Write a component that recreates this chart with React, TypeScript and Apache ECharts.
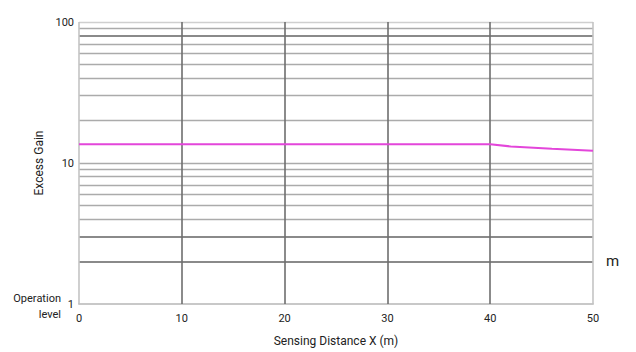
import React, { useEffect, useRef } from "react";
import * as echarts from "echarts";

const distances = [0, 10, 20, 30, 40, 42, 46, 50];
const gains = [13.6, 13.6, 13.6, 13.6, 13.6, 13.1, 12.6, 12.2];
const hLines = [2, 3, 4, 5, 6, 7, 8, 9, 10, 20, 30, 40, 50, 60, 70, 80, 90, 100];
const darkHLines = [2, 3, 80];
const faintHLines = [100];
const vLines = [0, 10, 20, 30, 40, 50];
const darkVLines = [10, 20, 30, 40];

export default function App() {
  const ref = useRef<HTMLDivElement>(null);
  useEffect(() => {
    if (!ref.current) return;
    const chart = echarts.init(ref.current, undefined, { renderer: "svg" });
    const font = "Roboto, 'DejaVu Sans', sans-serif";
    const hData = hLines.map((v) => ({
      yAxis: v,
      lineStyle: darkHLines.includes(v)
        ? { color: "#8a8a8a", width: 2.2, type: "solid" }
        : faintHLines.includes(v)
        ? { color: "#cfcfcf", width: 1.3, type: "solid" }
        : { color: "#ababab", width: 1.3, type: "solid" },
    }));
    const vData = vLines.map((v) => ({
      xAxis: v,
      lineStyle: darkVLines.includes(v)
        ? { color: "#6e6e6e", width: 1.6, type: "solid" }
        : { color: "#c4c4c4", width: 1.6, type: "solid" },
    }));
    chart.setOption({
      animation: false,
      grid: { left: 79, right: 43, top: 22, bottom: 47 },
      xAxis: {
        type: "value",
        min: 0,
        max: 50,
        interval: 10,
        name: "Sensing Distance X (m)",
        nameLocation: "middle",
        nameGap: 31,
        nameTextStyle: { color: "#222", fontSize: 12, fontFamily: font },
        axisLine: { show: true, lineStyle: { color: "#c8c8c8", width: 2 } },
        axisTick: { show: false },
        splitLine: { show: false },
        axisLabel: { color: "#222", fontSize: 11, fontFamily: font, margin: 9 },
      },
      yAxis: {
        type: "log",
        logBase: 10,
        min: 1,
        max: 100,
        name: "Excess Gain",
        nameLocation: "middle",
        nameGap: 27,
        nameRotate: 90,
        nameTextStyle: { color: "#222", fontSize: 12, fontFamily: font },
        axisLine: { show: false },
        axisTick: { show: false },
        splitLine: { show: false },
        axisLabel: { color: "#222", fontSize: 11, fontFamily: font, margin: 5 },
      },
      graphic: [
        {
          type: "text",
          x: 61,
          y: 290,
          style: {
            text: "Operation\nlevel",
            align: "right",
            fill: "#222",
            font: `11px ${font}`,
            lineHeight: 16,
          },
        },
        {
          type: "text",
          x: 606,
          y: 253,
          style: { text: "m", fill: "#222", font: `15px ${font}` },
        },
      ],
      series: [
        {
          type: "line",
          data: [],
          silent: true,
          markLine: {
            silent: true,
            symbol: "none",
            label: { show: false },
            data: [...hData, ...vData],
          },
        },
        {
          type: "line",
          data: distances.map((d, i) => [d, gains[i]]),
          showSymbol: false,
          symbol: "none",
          lineStyle: { color: "#e346da", width: 2 },
          z: 5,
        },
      ],
    });
    return () => chart.dispose();
  }, []);
  return (
    <div
      ref={ref}
      style={{ position: "absolute", left: 0, top: 0, width: 636, height: 352 }}
    />
  );
}
